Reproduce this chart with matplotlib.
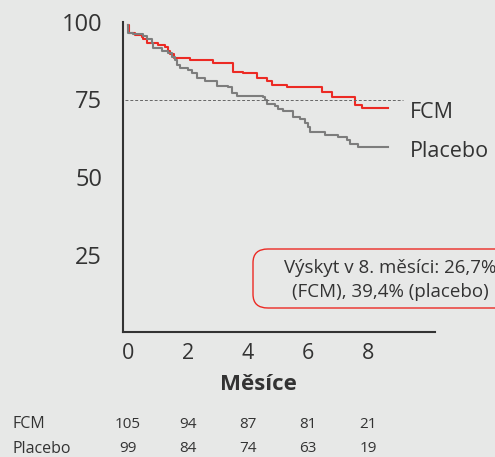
import matplotlib
matplotlib.use("Agg")
import matplotlib.pyplot as plt
from matplotlib.patches import FancyBboxPatch
import matplotlib.transforms as mtransforms

plt.rcParams['font.family'] = ['Open Sans', 'DejaVu Sans']

# Kaplan-Meier style curves (months, % without event)
fcm_t = [0, 0.04, 0.23, 0.46, 0.51, 0.62, 1.01, 1.23, 1.34, 1.40, 1.53, 2.07, 2.84,
         3.51, 3.84, 4.29, 4.62, 4.79, 5.29, 6.46, 6.79, 7.57, 7.79, 8.68]
fcm_v = [99.0, 96.4, 95.8, 95.3, 94.4, 93.3, 92.6, 91.8, 90.7, 89.6, 88.3, 87.7, 86.9,
         84.0, 83.4, 81.8, 81.1, 79.7, 78.9, 77.5, 75.9, 73.2, 72.4, 72.4]

pla_t = [0, 0.01, 0.18, 0.51, 0.62, 0.79, 0.84, 1.12, 1.34, 1.46, 1.57, 1.64, 1.73,
         2.01, 2.12, 2.29, 2.57, 2.96, 3.32, 3.46, 3.62, 4.51, 4.57, 4.62, 4.90, 5.01,
         5.18, 5.51, 5.73, 5.90, 6.01, 6.07, 6.57, 7.01, 7.29, 7.40, 7.68, 8.68]
pla_v = [99.0, 96.4, 96.0, 95.5, 94.4, 93.1, 91.7, 90.7, 90.1, 88.8, 87.7, 86.1, 85.1,
         84.5, 83.7, 81.8, 81.1, 79.5, 78.9, 77.2, 76.1, 75.9, 75.0, 73.5, 72.9, 71.8,
         71.4, 69.3, 68.6, 67.3, 66.0, 64.6, 63.5, 62.8, 61.9, 60.6, 59.6, 59.6]

x_ticks = [0, 2, 4, 6, 8]
y_ticks = [25, 50, 75, 100]
risk_fcm = [105, 94, 87, 81, 21]
risk_placebo = [99, 84, 74, 63, 19]

bg = '#e7e8e7'
red = '#ec2a24'
grey = '#7d7d7d'
dark = '#333333'

W, H = 495, 457
fig = plt.figure(figsize=(W / 100, H / 100), dpi=100, facecolor=bg)
ax = fig.add_axes([123 / W, 125 / H, (435 - 123) / W, (332 - 22) / H], facecolor=bg)

ax.step(fcm_t, fcm_v, where='post', color=red, lw=1.5)
ax.step(pla_t, pla_v, where='post', color=grey, lw=1.5)
ax.hlines(75, -0.1, 9.17, colors='#666666', linestyles=(0, (3, 2)), lw=0.7)

ax.set_xlim(-0.167, 10.23)
ax.set_ylim(0, 100)
for s in ['top', 'right']:
    ax.spines[s].set_visible(False)
for s in ['left', 'bottom']:
    ax.spines[s].set_color(dark)
    ax.spines[s].set_linewidth(1.5)

ax.set_xticks(x_ticks)
ax.set_xticklabels([str(v) for v in x_ticks])
ax.set_yticks(y_ticks)
ax.set_yticklabels([str(v) for v in y_ticks])
ax.tick_params(axis='x', length=0, pad=8, labelsize=15.5, colors=dark)
ax.tick_params(axis='y', length=0, pad=15, labelsize=17, colors=dark)

ax.text(9.4, fcm_v[-1] - 1.5, 'FCM', fontsize=15.5, color=dark, va='center', ha='left')
ax.text(9.4, pla_v[-1] - 1.5, 'Placebo', fontsize=15.5, color=dark, va='center', ha='left')

fig.text(258 / W, 1 - 385 / H, 'Měsíce', fontsize=16, fontweight='bold',
         color=dark, ha='center', va='center')

# annotation box
box = FancyBboxPatch((253 / W, 1 - 308 / H), 260 / W, 59 / H,
                     boxstyle='round,pad=0,rounding_size=0.03',
                     transform=fig.transFigure, facecolor='none',
                     edgecolor=red, lw=1.0)
fig.add_artist(box)
fig.text(390 / W, 1 - 268 / H, 'Výskyt v 8. měsíci: 26,7%', fontsize=13.5,
         color=dark, ha='center', va='center')
fig.text(390 / W, 1 - 292 / H, '(FCM), 39,4% (placebo)', fontsize=13.5,
         color=dark, ha='center', va='center')

# numbers at risk
trans = mtransforms.blended_transform_factory(ax.transData, fig.transFigure)
fig.text(12 / W, 1 - 424 / H, 'FCM', fontsize=11.5, color=dark, va='center')
fig.text(12 / W, 1 - 449 / H, 'Placebo', fontsize=11.5, color=dark, va='center')
for t, a, b in zip(x_ticks, risk_fcm, risk_placebo):
    ax.text(t, 1 - 424 / H, str(a), transform=trans, fontsize=11, color=dark,
            ha='center', va='center', clip_on=False)
    ax.text(t, 1 - 449 / H, str(b), transform=trans, fontsize=11, color=dark,
            ha='center', va='center', clip_on=False)

fig.savefig('out.png', dpi=100, facecolor=bg)
